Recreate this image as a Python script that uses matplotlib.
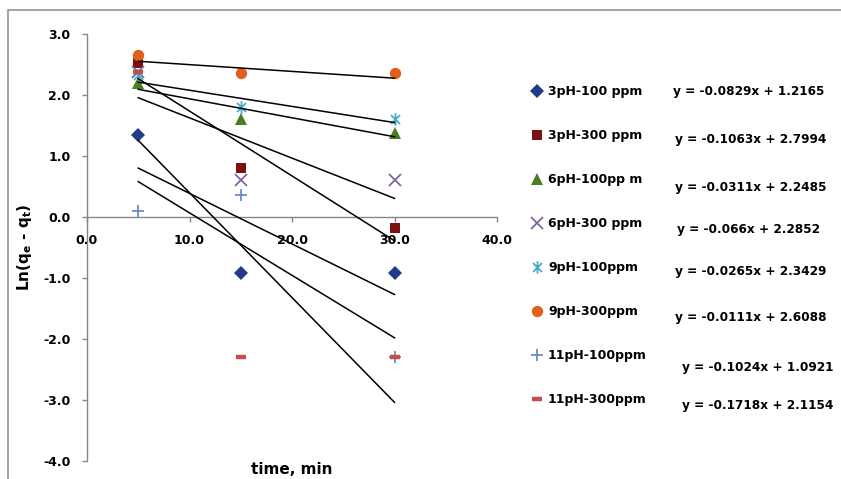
import matplotlib
matplotlib.use('Agg')
import matplotlib.pyplot as plt
import numpy as np
from matplotlib.path import Path
from matplotlib.patches import Rectangle

# ---- data ----
time = [5, 15, 30]
series_labels = ['3pH-100 ppm', '3pH-300 ppm', '6pH-100pp m', '6pH-300 ppm',
                 '9pH-100ppm', '9pH-300ppm', '11pH-100ppm', '11pH-300ppm']
ln_3ph_100 = [1.35, -0.92, -0.92]
ln_3ph_300 = [2.52, 0.80, -0.18]
ln_6ph_100 = [2.20, 1.60, 1.38]
ln_6ph_300 = [2.38, 0.60, 0.60]
ln_9ph_100 = [2.33, 1.80, 1.61]
ln_9ph_300 = [2.65, 2.36, 2.36]
ln_11ph_100 = [0.10, 0.36, -2.30]
ln_11ph_300 = [2.38, -2.30, -2.30]
slopes = [-0.0829, -0.1063, -0.0311, -0.066, -0.0265, -0.0111, -0.1024, -0.1718]
intercepts = [1.2165, 2.7994, 2.2485, 2.2852, 2.3429, 2.6088, 1.0921, 2.1154]
equations = ['y = -0.0829x + 1.2165', 'y = -0.1063x + 2.7994', 'y = -0.0311x + 2.2485',
             'y = -0.066x + 2.2852', 'y = -0.0265x + 2.3429', 'y = -0.0111x + 2.6088',
             'y = -0.1024x + 1.0921', 'y = -0.1718x + 2.1154']
x_ticks = [0, 10, 20, 30, 40]
y_ticks = [-4, -3, -2, -1, 0, 1, 2, 3]

series_values = [ln_3ph_100, ln_3ph_300, ln_6ph_100, ln_6ph_300,
                 ln_9ph_100, ln_9ph_300, ln_11ph_100, ln_11ph_300]

# ---- styles ----
asterisk = Path([(0, -1), (0, 1), (-0.72, -0.72), (0.72, 0.72), (-0.72, 0.72), (0.72, -0.72)],
                [Path.MOVETO, Path.LINETO, Path.MOVETO, Path.LINETO, Path.MOVETO, Path.LINETO])
styles = [
    dict(marker='D', color='#1F3C88', ms=6.8, mew=0),
    dict(marker='s', color='#7B1113', ms=7.2, mew=0),
    dict(marker='^', color='#4A7E22', ms=8.2, mew=0),
    dict(marker='x', color='#8064A2', ms=8.0, mew=1.3),
    dict(marker=asterisk, color='#4BACC6', ms=9.0, mew=1.3),
    dict(marker='o', color='#E0611B', ms=8.2, mew=0),
    dict(marker='+', color='#6A8CC8', ms=9.0, mew=1.3),
    dict(marker='_', color='#C0504D', ms=6.5, mew=3.2),
]
eq_px = [(673, 91), (675, 139), (675, 188), (677, 230), (675, 271), (675, 317), (682, 367), (682, 405)]

plt.rcParams['font.family'] = ['DejaVu Sans']
plt.rcParams['mathtext.default'] = 'bf'

W, H = 841, 479
fig = plt.figure(figsize=(W / 100, H / 100), dpi=100)
ax = fig.add_axes([87 / W, 1 - 461 / H, 410 / W, 427 / H])

handles = []
for vals, st, lab in zip(series_values, styles, series_labels):
    h, = ax.plot(time, vals, linestyle='none', marker=st['marker'], color=st['color'],
                 markersize=st['ms'], markeredgewidth=st['mew'], label=lab, zorder=3, clip_on=False)
    handles.append(h)

for m, b in zip(slopes, intercepts):
    xs = np.array([time[0], time[-1]])
    ax.plot(xs, m * xs + b, color='black', lw=1.1, zorder=4)

ax.set_xlim(0, 40)
ax.set_ylim(-4, 3)
ax.set_xticks(x_ticks)
ax.set_yticks(y_ticks)
ax.set_xticklabels([f'{v:.1f}' for v in x_ticks])
ax.set_yticklabels([f'{v:.1f}' for v in y_ticks])

grey = '#868686'
for s in ['top', 'right']:
    ax.spines[s].set_visible(False)
ax.spines['bottom'].set_position(('data', 0))
ax.spines['left'].set_color(grey)
ax.spines['bottom'].set_color(grey)
ax.spines['left'].set_linewidth(1.0)
ax.spines['bottom'].set_linewidth(1.0)
ax.tick_params(axis='both', direction='out', length=3.5, width=1.0, color=grey,
               labelsize=9, pad=8.5)
for t in ax.get_xticklabels() + ax.get_yticklabels():
    t.set_fontweight('bold')

ax.set_xlabel('time, min', fontsize=11, fontweight='bold')
ax.xaxis.set_label_coords(0.5, -9 / 427)
ax.xaxis.label.set_va('center')
ax.set_ylabel(r'Ln(q$_{e}$ - q$_{t}$)', fontsize=11, fontweight='bold')
ax.yaxis.set_label_coords(-62 / 410, 0.5)
ax.yaxis.label.set_va('center')

leg = fig.legend(handles=handles, loc='upper left', bbox_to_anchor=(531 / W, 1 - 85 / H),
                 frameon=False, fontsize=9, handlelength=1.0, handletextpad=0.36,
                 labelspacing=2.48, borderpad=0, borderaxespad=0)
for t in leg.get_texts():
    t.set_fontweight('bold')

for eq, (px, py) in zip(equations, eq_px):
    fig.text(px / W, 1 - py / H, eq, fontsize=8.7, fontweight='bold', ha='left', va='center')

fig.add_artist(Rectangle((8 / W, -0.1), 1.2, 1.1 - 9.5 / H, transform=fig.transFigure,
                         fill=False, edgecolor='#8a8a8a', lw=1.1))

fig.savefig('out.png', dpi=100)
